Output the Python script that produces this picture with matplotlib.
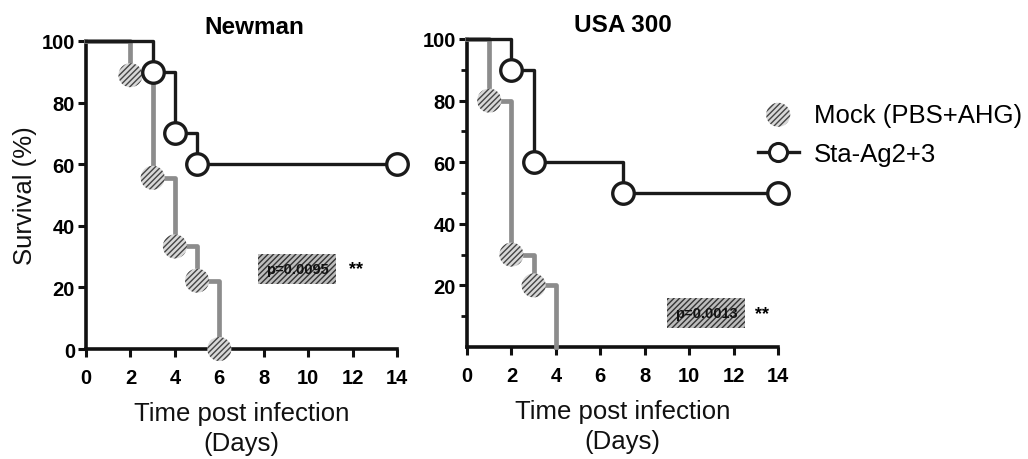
import matplotlib
matplotlib.use("Agg")
import matplotlib.pyplot as plt
from matplotlib.lines import Line2D

plt.rcParams['font.family'] = ['Liberation Sans', 'DejaVu Sans']

# ---- data ----
titles = ["Newman", "USA 300"]
series_names = ["Mock (PBS+AHG)", "Sta-Ag2+3"]

newman_mock_days = [0, 2, 3, 4, 5, 6]
newman_mock_surv = [100, 88.9, 55.6, 33.3, 22.2, 0]
newman_sta_days = [0, 3, 4, 5, 14]
newman_sta_surv = [100, 90, 70, 60, 60]

usa_mock_days = [0, 1, 2, 3, 4]
usa_mock_surv = [100, 80, 30, 20, 0]
usa_sta_days = [0, 2, 3, 7, 14]
usa_sta_surv = [100, 90, 60, 50, 50]

p_texts = ["p=0.0095", "p=0.0013"]
x_ticks = [0, 2, 4, 6, 8, 10, 12, 14]

MOCK_C = '#8c8c8c'
STA_C = '#1a1a1a'

fig = plt.figure(figsize=(10.28, 4.6), dpi=100)
axL = fig.add_axes([0.0837, 0.2391, 0.3025, 0.6696])
axR = fig.add_axes([0.4543, 0.2435, 0.3025, 0.6696])

def draw(ax, md, ms, sd, ss, mock_mark_end, title, title_x, ptext, pxy, star_x,
         yticks, minor):
    ax.step(md, ms, where='post', color=MOCK_C, lw=3.4, zorder=3, clip_on=False)
    mx = md[1:mock_mark_end]
    my = ms[1:mock_mark_end]
    sc = ax.scatter(mx, my, s=300, facecolor='#d8d8d8', edgecolor='#444444',
                    hatch='//////', linewidth=0.0, zorder=4, clip_on=False)
    ax.step(sd, ss, where='post', color=STA_C, lw=2.4, zorder=5, clip_on=False)
    ax.plot(sd[1:], ss[1:], ls='none', marker='o', ms=15.5, mfc='white',
            mec=STA_C, mew=2.4, zorder=6, clip_on=False)
    ax.set_xlim(0, 14)
    ax.set_ylim(0, 100)
    for s in ['top', 'right']:
        ax.spines[s].set_visible(False)
    for s in ['left', 'bottom']:
        ax.spines[s].set_linewidth(2.6)
        ax.spines[s].set_color('#111111')
    ax.set_xticks(x_ticks)
    ax.set_yticks(yticks)
    if minor:
        ax.set_yticks(minor, minor=True)
        ax.tick_params(axis='y', which='minor', length=4, width=2, direction='out',
                       color='#111111')
    ax.tick_params(axis='both', which='major', length=6, width=2.2, labelsize=14.5,
                   color='#111111')
    ax.tick_params(axis='x', pad=8)
    ax.tick_params(axis='y', pad=2)
    for lab in ax.get_xticklabels() + ax.get_yticklabels():
        lab.set_fontweight('bold')
    ax.set_title(title, fontsize=17.5, fontweight='bold', pad=6, x=title_x)
    ax.set_xlabel("Time post infection\n(Days)", fontsize=18.5, labelpad=10,
                  linespacing=1.3, color='#111111')
    ax.text(pxy[0], pxy[1], ptext, fontsize=10.5, ha='center', va='center', zorder=7,
            fontweight='bold', color='#111111',
            bbox=dict(boxstyle='square,pad=0.55', facecolor='#bdbdbd', edgecolor='#333333',
                      hatch='//////', linewidth=0.0))
    ax.text(star_x, pxy[1], "**", fontsize=13, ha='center', va='center',
            fontweight='bold')
    return sc

sc = draw(axL, newman_mock_days, newman_mock_surv, newman_sta_days, newman_sta_surv,
          None, titles[0], 0.54, p_texts[0], (9.5, 26), 12.15,
          [0, 20, 40, 60, 80, 100], None)
draw(axR, usa_mock_days, usa_mock_surv, usa_sta_days, usa_sta_surv,
     -1, titles[1], 0.5, p_texts[1], (10.76, 11), 13.3,
     [20, 40, 60, 80, 100], [10, 30, 50, 70, 90])

axL.set_ylabel("Survival (%)", fontsize=18.5, labelpad=3, color='#111111')

sta_handle = Line2D([], [], color=STA_C, lw=2.4, marker='o', ms=13, mfc='white',
                    mec=STA_C, mew=2.2)
fig.legend([sc, sta_handle], series_names, loc='upper left',
           bbox_to_anchor=(0.737, 0.775), borderaxespad=0, borderpad=0,
           frameon=False, prop=dict(size=18.5),
           handlelength=1.6, handletextpad=0.6, labelspacing=0.6)

fig.savefig("out.png", dpi=100)
